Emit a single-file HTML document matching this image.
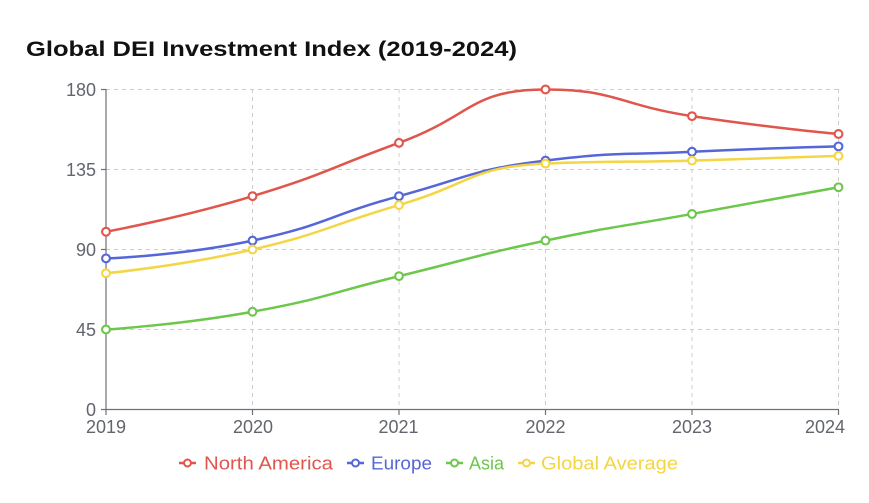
<!DOCTYPE html>
<html>
<head>
<meta charset="utf-8">
<style>
  html,body{margin:0;padding:0;background:#fff;}
  svg{display:block;}
</style>
</head>
<body>
<svg id="c" width="869" height="503" viewBox="0 0 869 503" xmlns="http://www.w3.org/2000/svg">
  <rect width="869" height="503" fill="#fff"/>
  <text x="26" y="56" font-family="Liberation Sans, sans-serif" font-weight="bold" font-size="21" fill="#111" textLength="491" lengthAdjust="spacingAndGlyphs">Global DEI Investment Index (2019-2024)</text>
  <g id="grid" stroke="#cccccc" stroke-width="1" stroke-dasharray="4,4" fill="none">
    <line x1="106" y1="89.5" x2="839" y2="89.5"/>
    <line x1="106" y1="169.5" x2="839" y2="169.5"/>
    <line x1="106" y1="249.5" x2="839" y2="249.5"/>
    <line x1="106" y1="329.5" x2="839" y2="329.5"/>
    <line x1="252.5" y1="89" x2="252.5" y2="409"/>
    <line x1="399" y1="89" x2="399" y2="409"/>
    <line x1="545.5" y1="89" x2="545.5" y2="409"/>
    <line x1="692" y1="89" x2="692" y2="409"/>
    <line x1="838.5" y1="89" x2="838.5" y2="409"/>
  </g>
  <g stroke="#6E7079" stroke-width="1.2" fill="none">
    <line x1="106" y1="89" x2="106" y2="415"/>
    <line x1="101" y1="89.5" x2="106" y2="89.5"/>
    <line x1="101" y1="169.5" x2="106" y2="169.5"/>
    <line x1="101" y1="249.5" x2="106" y2="249.5"/>
    <line x1="101" y1="329.5" x2="106" y2="329.5"/>
    <line x1="101" y1="409.5" x2="106" y2="409.5"/>
    <line x1="106" y1="409.5" x2="839" y2="409.5"/>
    <line x1="252.5" y1="409" x2="252.5" y2="415"/>
    <line x1="399" y1="409" x2="399" y2="415"/>
    <line x1="545.5" y1="409" x2="545.5" y2="415"/>
    <line x1="692" y1="409" x2="692" y2="415"/>
    <line x1="838.5" y1="409" x2="838.5" y2="415"/>
  </g>
  <g font-family="Liberation Sans, sans-serif" font-size="18" fill="#63656e" text-anchor="end">
    <text x="96" y="96">180</text>
    <text x="96" y="176">135</text>
    <text x="96" y="256">90</text>
    <text x="96" y="336">45</text>
    <text x="96" y="416">0</text>
  </g>
  <g font-family="Liberation Sans, sans-serif" font-size="18" fill="#63656e" text-anchor="middle">
    <text x="106" y="433">2019</text>
    <text x="253" y="433">2020</text>
    <text x="398.5" y="433">2021</text>
    <text x="545.5" y="433">2022</text>
    <text x="692" y="433">2023</text>
    <text x="845" y="433" text-anchor="end">2024</text>
  </g>
  <g id="series"></g>
  <g id="legend" font-family="Liberation Sans, sans-serif" font-size="18">
    <line x1="179" y1="463" x2="196" y2="463" stroke="#E0554C" stroke-width="2.4"/>
    <circle cx="187.5" cy="463" r="3.5" fill="#fff" stroke="#E0554C" stroke-width="2"/>
    <text x="204" y="469.5" fill="#E0554C" textLength="129" lengthAdjust="spacingAndGlyphs">North America</text>

    <line x1="347" y1="463" x2="364" y2="463" stroke="#5566D8" stroke-width="2.4"/>
    <circle cx="355.5" cy="463" r="3.5" fill="#fff" stroke="#5566D8" stroke-width="2"/>
    <text x="371" y="469.5" fill="#5566D8" textLength="61" lengthAdjust="spacingAndGlyphs">Europe</text>

    <line x1="446" y1="463" x2="463" y2="463" stroke="#6CC74B" stroke-width="2.4"/>
    <circle cx="454.5" cy="463" r="3.5" fill="#fff" stroke="#6CC74B" stroke-width="2"/>
    <text x="469" y="469.5" fill="#6CC74B" textLength="35" lengthAdjust="spacingAndGlyphs">Asia</text>

    <line x1="518" y1="463" x2="535" y2="463" stroke="#F4D543" stroke-width="2.4"/>
    <circle cx="526.5" cy="463" r="3.5" fill="#fff" stroke="#F4D543" stroke-width="2"/>
    <text x="541" y="469.5" fill="#F4D543" textLength="137" lengthAdjust="spacingAndGlyphs">Global Average</text>
  </g>
</svg>
<script>
(function(){
  var xs=[106,252.5,399,545.5,692,838.5];
  function Y(v){return 409.5 - v*80/45;}
  var series=[
    {c:"#E0554C",d:[100,120,150,180,165,155]},
    {c:"#5566D8",d:[85,95,120,140,145,148]},
    {c:"#6CC74B",d:[45,55,75,95,110,125]},
    {c:"#F4D543",d:[76.667,90,115,138.333,140,142.667]}
  ];
  var mn=Math.min,mx=Math.max;
  function smoothPath(pts,smooth){
    var s="",prevX,prevY,cpx0,cpy0,cpx1,cpy1,n=pts.length;
    for(var i=0;i<n;i++){
      var x=pts[i][0],y=pts[i][1];
      if(i===0){s+="M"+x+","+y;cpx0=x;cpy0=y;}
      else{
        var nextCpx0,nextCpy0;
        if(i===n-1){cpx1=x;cpy1=y;}
        else{
          var nx=pts[i+1][0],ny=pts[i+1][1];
          var vx=nx-prevX,vy=ny-prevY;
          var dx0=x-prevX,dx1=nx-x,dy0=y-prevY,dy1=ny-y;
          var lp=Math.sqrt(dx0*dx0+dy0*dy0),ln=Math.sqrt(dx1*dx1+dy1*dy1);
          var r=ln/(ln+lp);
          nextCpx0=x+vx*smooth*r;nextCpy0=y+vy*smooth*r;
          nextCpx0=mn(nextCpx0,mx(nx,x));nextCpy0=mn(nextCpy0,mx(ny,y));
          nextCpx0=mx(nextCpx0,mn(nx,x));nextCpy0=mx(nextCpy0,mn(ny,y));
          vx=nextCpx0-x;vy=nextCpy0-y;
          cpx1=x-vx*lp/ln;cpy1=y-vy*lp/ln;
          cpx1=mn(cpx1,mx(prevX,x));cpy1=mn(cpy1,mx(prevY,y));
          cpx1=mx(cpx1,mn(prevX,x));cpy1=mx(cpy1,mn(prevY,y));
          vx=x-cpx1;vy=y-cpy1;
          nextCpx0=x+vx*ln/lp;nextCpy0=y+vy*ln/lp;
        }
        s+="C"+cpx0+","+cpy0+" "+cpx1+","+cpy1+" "+x+","+y;
        cpx0=nextCpx0;cpy0=nextCpy0;
      }
      prevX=x;prevY=y;
    }
    return s;
  }
  var g=document.getElementById("series"),html="";
  series.forEach(function(se){
    var pts=se.d.map(function(v,i){return [xs[i],Y(v)];});
    html+='<path d="'+smoothPath(pts,0.5)+'" fill="none" stroke="'+se.c+'" stroke-width="2.5" stroke-linejoin="round" stroke-linecap="round"/>';
  });
  series.forEach(function(se){
    se.d.forEach(function(v,i){
      html+='<circle cx="'+xs[i]+'" cy="'+Y(v)+'" r="3.9" fill="#fff" stroke="'+se.c+'" stroke-width="2.1"/>';
    });
  });
  g.innerHTML=html;
})();
</script>
</body>
</html>
